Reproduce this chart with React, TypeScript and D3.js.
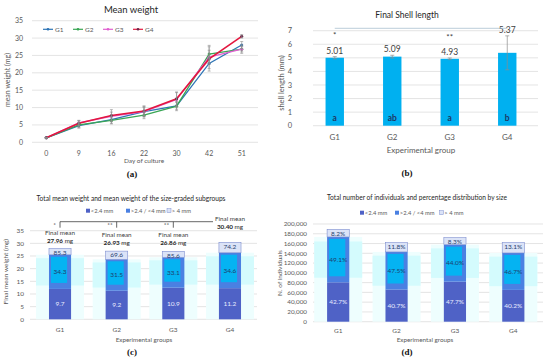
import React, { useEffect, useRef } from "react";
import * as d3 from "d3";

// (a) mean weight over days
const days = ["0", "9", "16", "22", "30", "42", "51"];
const groups = ["G1", "G2", "G3", "G4"];
const weightG1 = [1.3, 4.8, 6.5, 8.8, 10.5, 22.7, 28.0];
const weightG2 = [1.3, 5.0, 6.3, 7.8, 10.4, 25.4, 26.8];
const weightG3 = [1.3, 5.6, 7.5, 8.8, 12.3, 24.5, 26.8];
const weightG4 = [1.3, 5.5, 7.7, 9.0, 12.5, 24.0, 30.5];
const errG1 = [0.1, 0.7, 1.0, 1.2, 1.0, 1.5, 1.0];
const errG2 = [0.1, 0.8, 1.0, 1.0, 1.3, 2.5, 0.8];
const errG3 = [0.1, 0.7, 1.2, 1.5, 2.0, 2.0, 1.2];
const errG4 = [0.1, 0.8, 1.7, 1.5, 2.0, 3.5, 0.5];
const lineColors = ["#2e75b6", "#3aa655", "#e060d0", "#e3173f"];

// (b) final shell length
const shellLength = [5.01, 5.09, 4.93, 5.37];
const shellErr = [0.08, 0.1, 0.06, 1.25];
const shellLetters = ["a", "ab", "a", "b"];

// (c) final mean weight split by size class (mg)
const weightSmall = [12.0, 11.3, 12.5, 12.3];
const weightMid = [13.5, 12.4, 12.0, 14.0];
const weightLarge = [2.46, 3.23, 2.36, 4.1];
const labelSmall = ["9.7", "9.2", "10.9", "11.2"];
const labelMid = ["34.3", "31.5", "33.1", "34.6"];
const labelLarge = ["85.3", "69.6", "85.6", "74.2"];
const finalMean = ["27.96", "26.93", "26.86", "30.40"];
const weightStars = ["*", "**", "**", ""];

// (d) number of individuals and percentages
const countTotal = [189000, 162000, 172000, 162000];
const pctSmall = [42.7, 40.7, 47.7, 40.2];
const pctMid = [49.1, 47.5, 44.0, 46.7];
const pctLarge = [8.2, 11.8, 8.3, 13.1];

const sizeClasses = ["<2.4 mm", ">2.4 / <4 mm", "> 4 mm"];
const sizeColors = ["#4f62c6", "#4a80e2", "#dbe3f7"];

const FONT = "Lato, 'Open Sans', sans-serif";
const GRID = "#d9d9d9";
const TICK = "#595959";

function txt(g: any, x: number, y: number, s: string, size: number, opts: any = {}) {
  return g.append("text")
    .attr("x", x).attr("y", y).attr("dy", "0.35em")
    .attr("font-family", opts.family || FONT)
    .attr("font-size", size)
    .attr("font-weight", opts.weight || "normal")
    .attr("fill", opts.fill || TICK)
    .attr("text-anchor", opts.anchor || "middle")
    .text(s);
}

function vtxt(g: any, x: number, y: number, s: string, size: number) {
  g.append("text")
    .attr("transform", `translate(${x},${y}) rotate(-90)`)
    .attr("dy", "0.35em")
    .attr("font-family", FONT).attr("font-size", size)
    .attr("fill", TICK).attr("text-anchor", "middle")
    .text(s);
}

function drawMeanWeight(g: any) {
  const x = d3.scalePoint().domain(days).range([30, 258]).padding(0.5);
  const y = d3.scaleLinear().domain([0, 35]).range([142.3, 20.7]);

  g.selectAll(".grid").data(y.ticks(7)).join("line")
    .attr("x1", 32).attr("x2", 258)
    .attr("y1", (d: number) => y(d)).attr("y2", (d: number) => y(d))
    .attr("stroke", GRID).attr("stroke-width", 0.7);
  y.ticks(7).forEach((t) => txt(g, 23, y(t), String(t), 7, { anchor: "end" }));
  days.forEach((d) => txt(g, x(d)!, 154, d, 7));

  txt(g, 131, 10, "Mean weight", 9.5, { fill: "#262626" });
  txt(g, 144, 161, "Day of culture", 6.5);
  vtxt(g, 8, 80, "mean weight (mg)", 7);
  txt(g, 132, 174, "(a)", 9, { family: "'Liberation Serif', serif", weight: "bold", fill: "#111" });

  const series = [weightG1, weightG2, weightG3, weightG4];
  const errs = [errG1, errG2, errG3, errG4];
  const line = d3.line<number>().x((_, i) => x(days[i])!).y((d) => y(d));
  series.forEach((vals, si) => {
    g.append("path").attr("d", line(vals)).attr("fill", "none")
      .attr("stroke", lineColors[si]).attr("stroke-width", si === 3 ? 1.6 : 1.3);
    vals.forEach((v, i) => {
      g.append("circle").attr("cx", x(days[i])!).attr("cy", y(v)).attr("r", 1.5)
        .attr("fill", si === 3 ? "#6b2a4a" : lineColors[si]);
    });
  });
  series.forEach((vals, si) => {
    vals.forEach((v, i) => {
      const cx = x(days[i])!, e = errs[si][i];
      g.append("line").attr("x1", cx).attr("x2", cx).attr("y1", y(v - e)).attr("y2", y(v + e))
        .attr("stroke", "#8c8c8c").attr("stroke-width", 0.6);
      [v - e, v + e].forEach((b) => g.append("line").attr("x1", cx - 1.5).attr("x2", cx + 1.5)
        .attr("y1", y(b)).attr("y2", y(b)).attr("stroke", "#8c8c8c").attr("stroke-width", 0.6));
    });
  });

  // legend
  const lx = d3.scalePoint().domain(groups).range([43, 133]);
  groups.forEach((gName, i) => {
    const x0 = lx(gName)!;
    g.append("line").attr("x1", x0).attr("x2", x0 + 10).attr("y1", 29.3).attr("y2", 29.3)
      .attr("stroke", lineColors[i]).attr("stroke-width", 1.2);
    g.append("circle").attr("cx", x0 + 5).attr("cy", 29.3).attr("r", 1.3).attr("fill", i === 3 ? "#6b2a4a" : lineColors[i]);
    txt(g, x0 + 12, 29.3, gName, 6.5, { anchor: "start" });
  });
}

function drawShell(g: any) {
  const x = d3.scaleBand().domain(groups).range([306, 536]).paddingInner(0.68).paddingOuter(0.34);
  const y = d3.scaleLinear().domain([0, 7]).range([125.7, 30.7]);

  g.selectAll(".grid").data(y.ticks(7)).join("line")
    .attr("x1", 313).attr("x2", 538)
    .attr("y1", (d: number) => y(d)).attr("y2", (d: number) => y(d))
    .attr("stroke", GRID).attr("stroke-width", 0.7);
  y.ticks(7).forEach((t) => txt(g, 292, y(t), String(t), 7.5, { anchor: "end" }));

  groups.forEach((gName, i) => {
    const cx = x(gName)! + x.bandwidth() / 2;
    g.append("rect").attr("x", x(gName)).attr("width", x.bandwidth())
      .attr("y", y(shellLength[i])).attr("height", y(0) - y(shellLength[i])).attr("fill", "#00b0f0");
    const top = shellLength[i] + shellErr[i];
    g.append("line").attr("x1", cx).attr("x2", cx).attr("y1", y(shellLength[i] - shellErr[i])).attr("y2", y(top))
      .attr("stroke", "#8c8c8c").attr("stroke-width", 0.7);
    [shellLength[i] - shellErr[i], top].forEach((b) => g.append("line").attr("x1", cx - 2).attr("x2", cx + 2)
      .attr("y1", y(b)).attr("y2", y(b)).attr("stroke", "#8c8c8c").attr("stroke-width", 0.7));
    txt(g, cx, y(top) - 6, shellLength[i].toFixed(2), 8.5, { fill: "#404040" });
    txt(g, cx, y(0) - 8, shellLetters[i], 8.5, { weight: "bold", fill: "#1f3864" });
    txt(g, cx, 137, gName, 8);
  });

  const c1 = x("G1")! + x.bandwidth() / 2, c3 = x("G3")! + x.bandwidth() / 2, c4 = x("G4")! + x.bandwidth() / 2;
  g.append("line").attr("x1", c1).attr("x2", c4).attr("y1", 28.3).attr("y2", 28.3)
    .attr("stroke", "#a9c0cf").attr("stroke-width", 0.8);
  txt(g, c1, 35, "*", 8, { fill: "#404040" });
  txt(g, c3, 37, "**", 8, { fill: "#404040" });

  txt(g, 407, 15, "Final Shell length", 8.5, { fill: "#262626" });
  txt(g, 421, 150, "Experimental group", 8);
  vtxt(g, 281, 83, "shell length (mm)", 7.5);
  txt(g, 407, 173, "(b)", 9, { family: "'Liberation Serif', serif", weight: "bold", fill: "#111" });
}

function legendSquares(g: any, xs: number[], cy: number) {
  sizeClasses.forEach((s, i) => {
    g.append("rect").attr("x", xs[i]).attr("y", cy - 2).attr("width", 4).attr("height", 4)
      .attr("fill", sizeColors[i]).attr("stroke", i === 2 ? "#7f8fd0" : "none").attr("stroke-width", 0.5);
    txt(g, xs[i] + 4.8, cy, s, 5.8, { anchor: "start" });
  });
}

function drawStack(g: any, x: any, y: any, stacks: number[][], labels: string[][]) {
  groups.forEach((gName, i) => {
    const bx = x(gName)!, bw = x.bandwidth(), cx = bx + bw / 2;
    const b0 = 0, b1 = stacks[0][i], b2 = b1 + stacks[1][i], b3 = b2 + stacks[2][i];
    // glow behind the bars
    g.append("rect").attr("x", cx - 24).attr("width", 48).attr("y", y(b2)).attr("height", y(0) - y(b2))
      .attr("fill", "#eefefe");
    g.append("rect").attr("x", cx - 24).attr("width", 48).attr("y", y(b2 - stacks[1][i] * 0.1))
      .attr("height", y(b1 + stacks[1][i] * 0.1) - y(b2 - stacks[1][i] * 0.1)).attr("fill", "#d4fbfd");
    g.append("rect").attr("x", bx).attr("width", bw).attr("y", y(b1)).attr("height", y(b0) - y(b1)).attr("fill", sizeColors[0]);
    g.append("rect").attr("x", bx).attr("width", bw).attr("y", y(b2)).attr("height", y(b1) - y(b2)).attr("fill", sizeColors[1]);
    g.append("rect").attr("x", bx + 2).attr("width", bw - 6).attr("y", y(b2) + 2).attr("height", y(b1) - y(b2) - 8).attr("fill", "#05b3f2");
    g.append("rect").attr("x", bx).attr("width", bw).attr("y", y(b3)).attr("height", y(b2) - y(b3))
      .attr("fill", sizeColors[2]).attr("stroke", "#7f8fd0").attr("stroke-width", 0.6);
    txt(g, cx, y((b0 + b1) / 2), labels[0][i], 6.5, { fill: "#e8ecff" });
    txt(g, cx, y((b1 + b2) / 2), labels[1][i], 6.5, { fill: "#1f3f6e" });
    txt(g, cx, y(b3) + 4, labels[2][i], 6.5, { fill: "#1f3f6e" });
  });
}

function drawWeightStack(g: any) {
  const x = d3.scaleBand().domain(groups).range([31.7, 258.3]).paddingInner(0.61).paddingOuter(0.305);
  const y = d3.scaleLinear().domain([0, 35]).range([319.3, 230.7]);

  g.selectAll(".grid").data(y.ticks(7)).join("line")
    .attr("x1", 30).attr("x2", 257)
    .attr("y1", (d: number) => y(d)).attr("y2", (d: number) => y(d))
    .attr("stroke", GRID).attr("stroke-width", 0.7);
  y.ticks(7).forEach((t) => txt(g, 24, y(t), String(t), 6.5, { anchor: "end" }));

  drawStack(g, x, y, [weightSmall, weightMid, weightLarge], [labelSmall, labelMid, labelLarge]);

  const cxs = groups.map((gName) => x(gName)! + x.bandwidth() / 2);
  groups.forEach((gName, i) => {
    txt(g, cxs[i], 330, gName, 6.5);
    const rowY = i === 3 ? 219 : i === 0 ? 232.7 : 235;
    txt(g, cxs[i], rowY, "Final mean", 6.3, { fill: "#404040" });
    const t = txt(g, cxs[i], rowY + 8, "", 6.3, { fill: "#262626" });
    t.append("tspan").attr("font-weight", "bold").text(finalMean[i]);
    t.append("tspan").text(" mg");
  });

  // significance bracket
  g.append("line").attr("x1", cxs[0]).attr("x2", 213).attr("y1", 221.7).attr("y2", 221.7)
    .attr("stroke", "#404040").attr("stroke-width", 0.8);
  cxs.slice(0, 3).forEach((cx, i) => {
    g.append("line").attr("x1", cx).attr("x2", cx).attr("y1", 221.7).attr("y2", 227.7)
      .attr("stroke", "#404040").attr("stroke-width", 0.8);
    txt(g, cx - 4, 224.5, weightStars[i], 6.5, { fill: "#404040", anchor: "end" });
  });

  txt(g, 131, 198.3, "Total mean weight and mean weight of the size-graded subgroups", 6.6, { fill: "#262626" });
  legendSquares(g, [86, 126, 167], 210.7);
  txt(g, 144, 339.3, "Experimental groups", 6.3);
  vtxt(g, 6, 271.7, "Final mean weight (mg)", 6.5);
  txt(g, 132, 351.7, "(c)", 9, { family: "'Liberation Serif', serif", weight: "bold", fill: "#111" });
}

function drawCountStack(g: any) {
  const x = d3.scaleBand().domain(groups).range([309, 542.5]).paddingInner(0.62).paddingOuter(0.31);
  const y = d3.scaleLinear().domain([0, 200000]).range([321.7, 224]);

  g.selectAll(".grid").data(y.ticks(10)).join("line")
    .attr("x1", 313).attr("x2", 543)
    .attr("y1", (d: number) => y(d)).attr("y2", (d: number) => y(d))
    .attr("stroke", GRID).attr("stroke-width", 0.7);
  y.ticks(10).forEach((t) => txt(g, 307, y(t), d3.format(",")(t), 6.3, { anchor: "end" }));

  const small = countTotal.map((t, i) => (t * pctSmall[i]) / 100);
  const mid = countTotal.map((t, i) => (t * pctMid[i]) / 100);
  const large = countTotal.map((t, i) => (t * pctLarge[i]) / 100);
  const fmt = (v: number) => v.toFixed(1) + "%";
  drawStack(g, x, y, [small, mid, large], [pctSmall.map(fmt), pctMid.map(fmt), pctLarge.map(fmt)]);

  groups.forEach((gName) => txt(g, x(gName)! + x.bandwidth() / 2, 331, gName, 6.5));

  txt(g, 417, 197.3, "Total number of individuals and percentage distribution by size", 6.6, { fill: "#262626" });
  legendSquares(g, [360, 395, 439.5], 212.7);
  txt(g, 425, 340, "Experimental groups", 6.3);
  vtxt(g, 280, 273, "N. of individuals", 6.5);
  txt(g, 407, 351.7, "(d)", 9, { family: "'Liberation Serif', serif", weight: "bold", fill: "#111" });
}

export default function App() {
  const ref = useRef<SVGSVGElement>(null);

  useEffect(() => {
    const svg = d3.select(ref.current);
    svg.selectAll("*").remove();
    drawMeanWeight(svg.append("g"));
    drawShell(svg.append("g"));
    drawWeightStack(svg.append("g"));
    drawCountStack(svg.append("g"));
  }, []);

  return (
    <svg ref={ref} width={550} height={361}
      style={{ position: "absolute", left: 0, top: 0, background: "#fff" }} />
  );
}
